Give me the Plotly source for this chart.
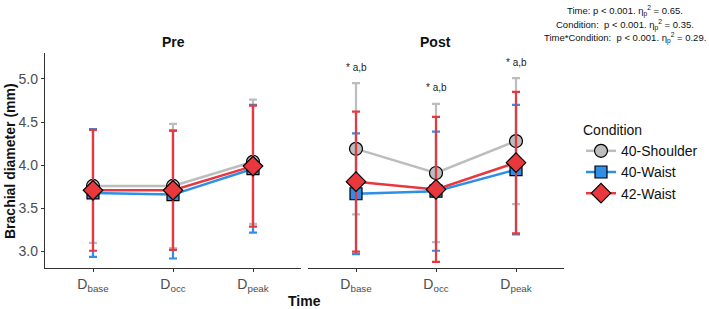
import plotly.graph_objects as go

W, H = 709, 309

time_points = ["D<sub>base</sub>", "D<sub>occ</sub>", "D<sub>peak</sub>"]
panels = ["Pre", "Post"]
conditions = ["40-Shoulder", "40-Waist", "42-Waist"]

# means [panel][condition] -> list over time points
pre_mean = {
    "40-Shoulder": [3.76, 3.76, 4.04],
    "40-Waist": [3.68, 3.66, 3.96],
    "42-Waist": [3.71, 3.71, 3.99],
}
pre_sd = {
    "40-Shoulder": [0.66, 0.72, 0.72],
    "40-Waist": [0.74, 0.74, 0.74],
    "42-Waist": [0.70, 0.69, 0.70],
}
post_mean = {
    "40-Shoulder": [4.19, 3.91, 4.28],
    "40-Waist": [3.67, 3.70, 3.95],
    "42-Waist": [3.81, 3.72, 4.03],
}
post_sd = {
    "40-Shoulder": [0.76, 0.80, 0.73],
    "40-Waist": [0.70, 0.69, 0.75],
    "42-Waist": [0.81, 0.84, 0.82],
}
post_labels = ["* a,b", "* a,b", "* a,b"]
stats_lines = [
    "Time: p < 0.001. η<sub>p</sub><sup>2</sup> = 0.65.",
    "Condition:  p < 0.001. η<sub>p</sub><sup>2</sup> = 0.35.",
    "Time*Condition:  p < 0.001. η<sub>p</sub><sup>2</sup> = 0.29.",
]

colors = {"40-Shoulder": "#BDBDBD", "40-Waist": "#2F8FE6", "42-Waist": "#E8383D"}
symbols = {"40-Shoulder": "circle", "40-Waist": "square", "42-Waist": "diamond"}
msizes = {"40-Shoulder": 13, "40-Waist": 12, "42-Waist": 15}

FONT = "Liberation Sans, Arial"

fig = go.Figure()

for pi, (means, sds) in enumerate([(pre_mean, pre_sd), (post_mean, post_sd)]):
    xa = "x" if pi == 0 else "x2"
    ya = "y" if pi == 0 else "y2"
    for c in conditions:
        fig.add_trace(go.Scatter(
            x=time_points, y=means[c], xaxis=xa, yaxis=ya,
            mode="lines+markers", name=c, legendgroup=c,
            showlegend=(pi == 0),
            line=dict(color=colors[c], width=2.5),
            marker=dict(symbol=symbols[c], size=msizes[c], color=colors[c],
                        line=dict(color="black", width=1.2)),
            error_y=dict(type="data", array=sds[c], visible=True,
                         color=colors[c], thickness=2.2, width=4),
        ))

# significance labels on post panel
for i, t in enumerate(time_points):
    top = max(post_mean[c][i] + post_sd[c][i] for c in conditions)
    fig.add_annotation(x=t, y=top, xref="x2", yref="y2", text=post_labels[i],
                       showarrow=False, yshift=16, xanchor="center", yanchor="middle",
                       font=dict(size=10, color="#222", family=FONT))

x0L, x1L = 45 / W, 301 / W
x0R, x1R = 308 / W, 564 / W
yb, yt = (H - 268) / H, (H - 53) / H

axis_common = dict(showline=True, linecolor="#333", linewidth=1.3, ticks="outside",
                   ticklen=3, tickcolor="#333", tickwidth=1, showgrid=False,
                   zeroline=False, tickfont=dict(size=14, color="#4D4D4D"))

fig.update_layout(
    width=W, height=H, margin=dict(l=0, r=0, t=0, b=0),
    paper_bgcolor="white", plot_bgcolor="white",
    font=dict(family=FONT, color="black"),
    xaxis=dict(domain=[x0L, x1L], anchor="y", type="category",
               range=[-0.6, 2.6], **axis_common),
    xaxis2=dict(domain=[x0R, x1R], anchor="y2", type="category",
                range=[-0.6, 2.6], **axis_common),
    yaxis=dict(domain=[yb, yt], anchor="x", range=[2.81, 5.30],
               tickvals=[3.0, 3.5, 4.0, 4.5, 5.0], ticktext=["3.0", "3.5", "4.0", "4.5", "5.0"],
               **axis_common),
    yaxis2=dict(domain=[yb, yt], anchor="x2", range=[2.81, 5.30], showline=False,
                showticklabels=False, ticks="", showgrid=False, zeroline=False),
    legend=dict(x=581 / W, y=(H - 117) / H, xanchor="left", yanchor="top",
                title=dict(text="Condition", font=dict(size=14, color="#111")),
                font=dict(size=14, color="#111"), tracegroupgap=0,
                bgcolor="rgba(0,0,0,0)", itemwidth=30),
    showlegend=True,
)

# panel titles
for name, xc in zip(panels, [(x0L + x1L) / 2, (x0R + x1R) / 2]):
    fig.add_annotation(x=xc, y=(H - 42) / H, xref="paper", yref="paper", text="<b>" + name + "</b>",
                       showarrow=False, xanchor="center", yanchor="middle",
                       font=dict(size=14, color="#111"))

# axis titles
fig.add_annotation(x=(x0L + x1R) / 2, y=(H - 301) / H, xref="paper", yref="paper",
                   text="<b>Time</b>", showarrow=False, xanchor="center", yanchor="middle",
                   font=dict(size=14, color="#111"))
fig.add_annotation(x=10 / W, y=(H - 161) / H, xref="paper", yref="paper",
                   text="<b>Brachial diameter (mm)</b>", textangle=-90, showarrow=False,
                   xanchor="center", yanchor="middle",
                   font=dict(size=14, color="#111"))

# stats text top right
for line, yy in zip(stats_lines, [11, 25, 38]):
    fig.add_annotation(x=625 / W, y=(H - yy) / H, xref="paper", yref="paper", text=line,
                       showarrow=False, xanchor="center", yanchor="middle",
                       font=dict(size=9.5, color="#111"))

fig.write_html("out.html")
